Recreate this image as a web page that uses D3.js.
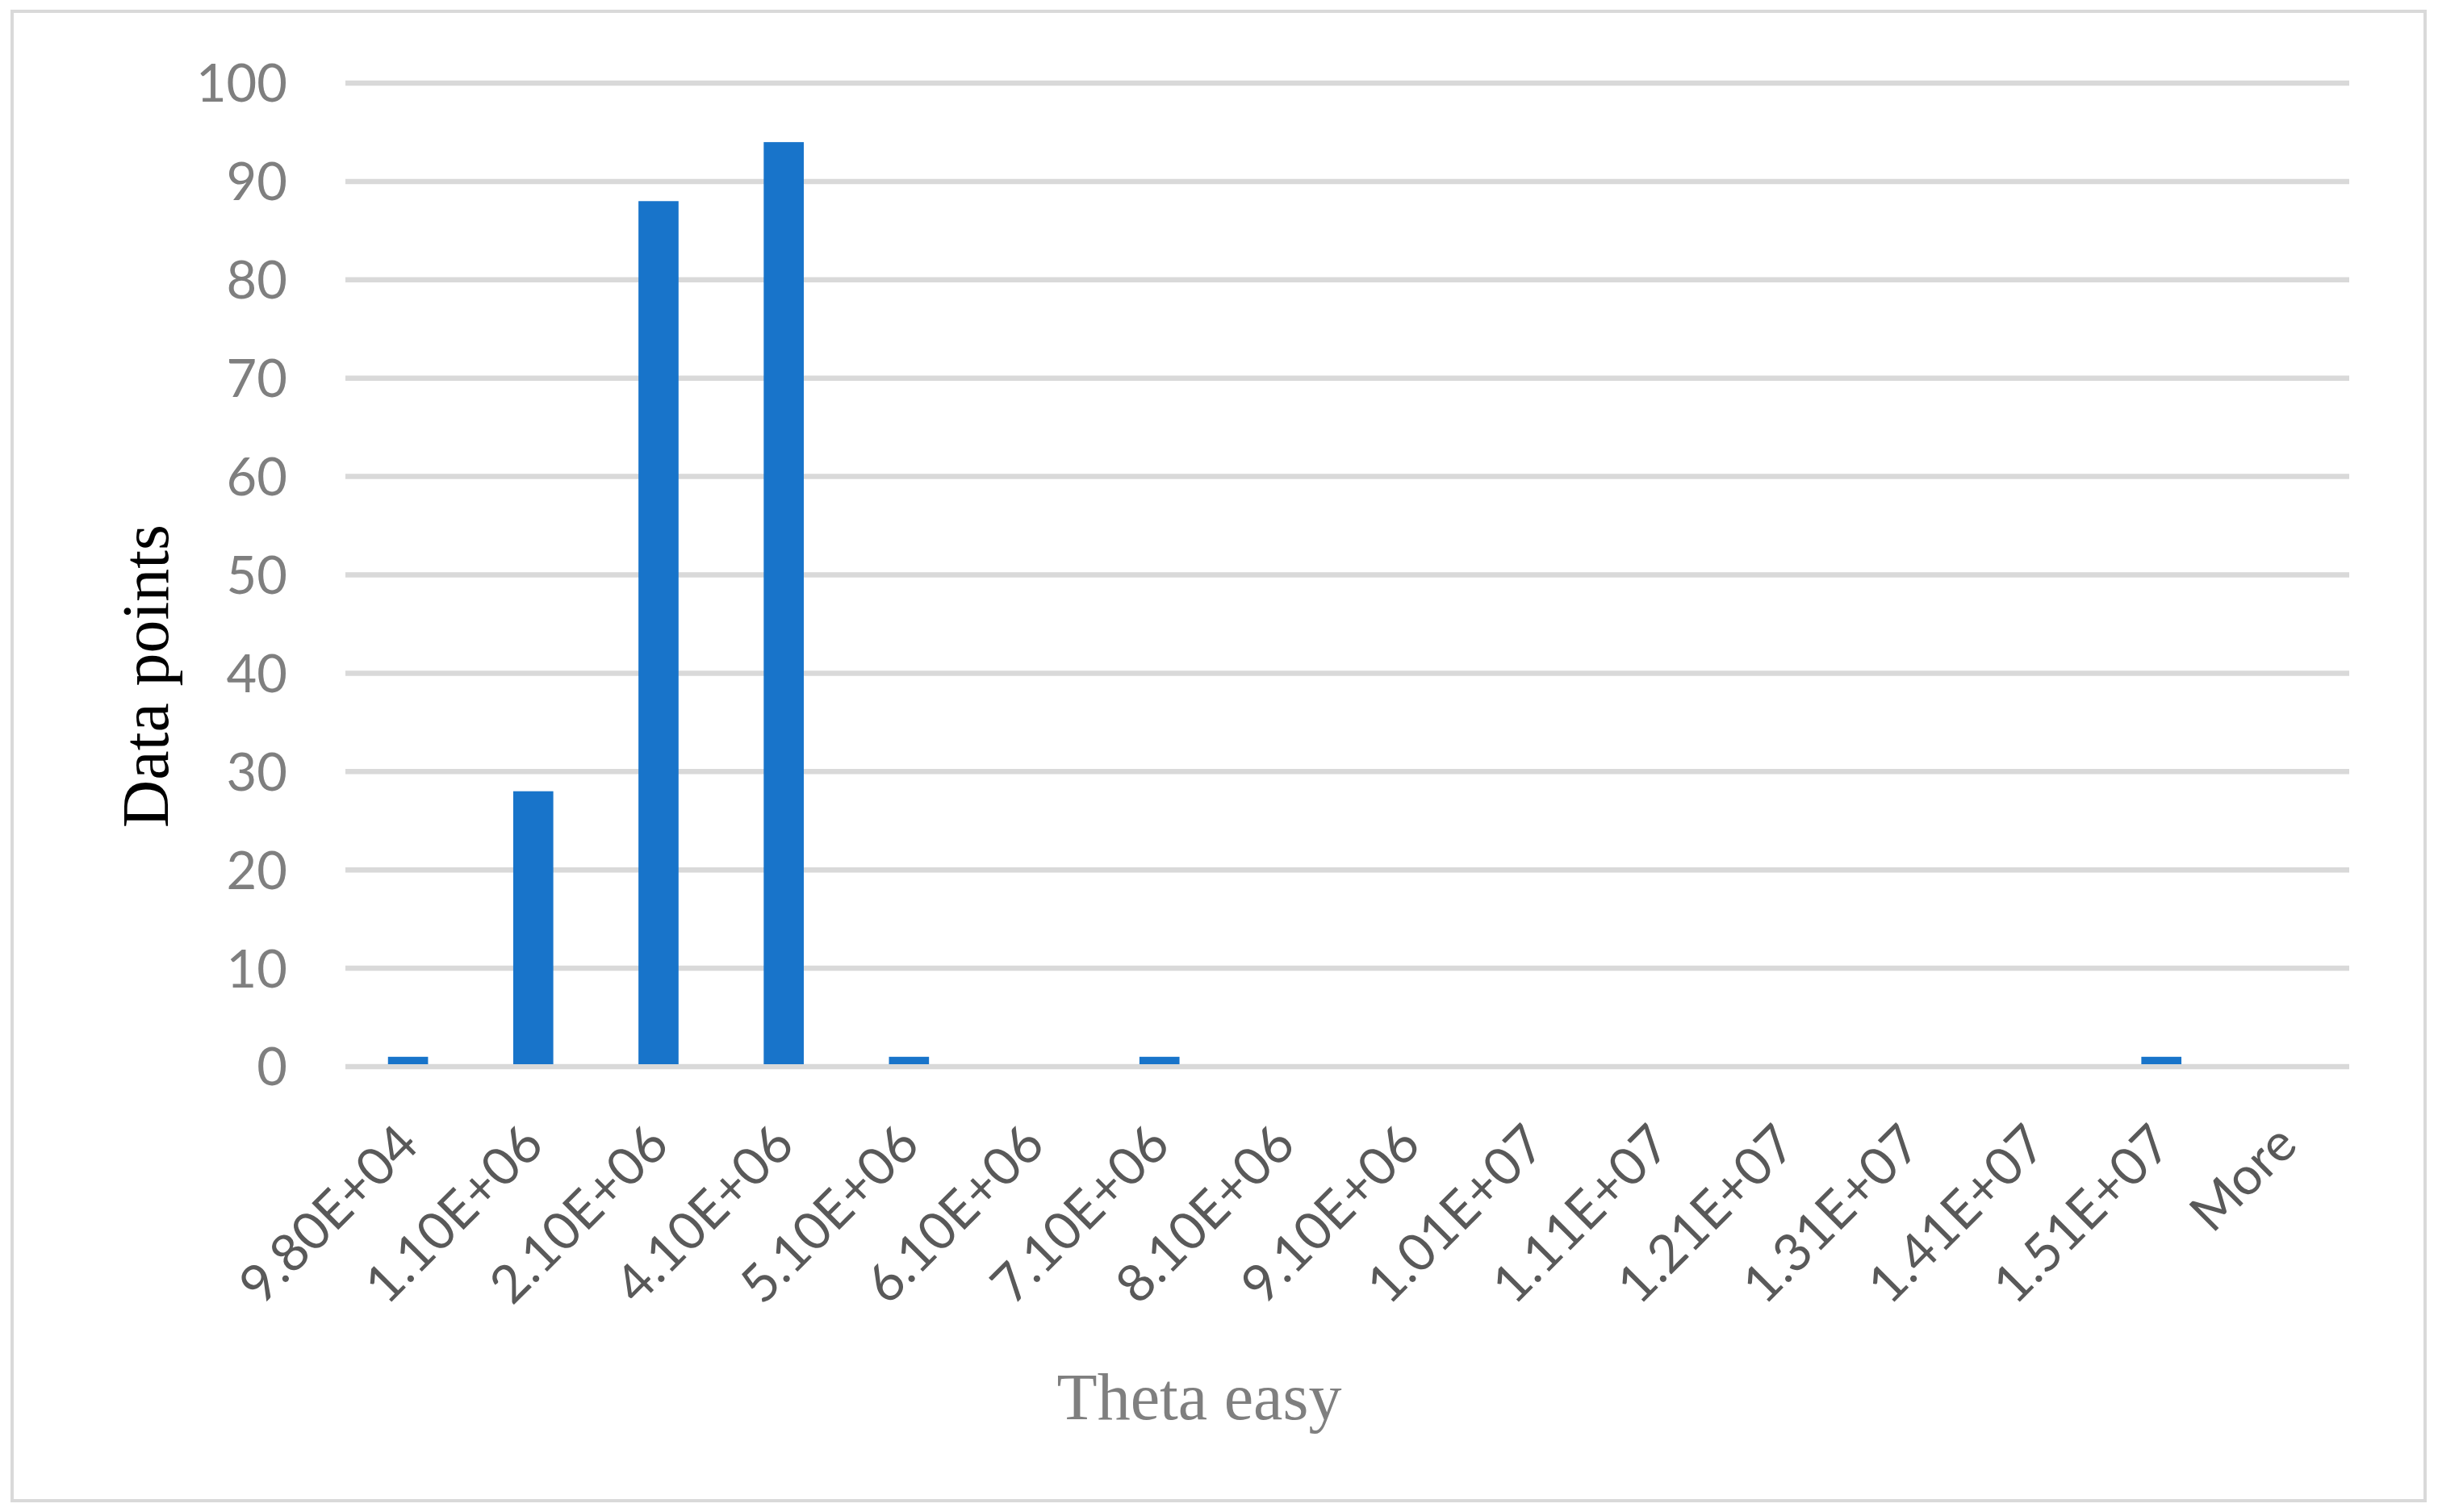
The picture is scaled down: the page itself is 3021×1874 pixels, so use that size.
<!DOCTYPE html>
<html>
<head>
<meta charset="utf-8">
<script src="https://cdn.jsdelivr.net/npm/d3@7"></script>
<style>
body{margin:0;background:#fff;}
</style>
</head>
<body>
<div id="chart"></div>
<script>
var categories = ["9.80E+04","1.10E+06","2.10E+06","4.10E+06","5.10E+06","6.10E+06","7.10E+06","8.10E+06",
    "9.10E+06","1.01E+07","1.11E+07","1.21E+07","1.31E+07","1.41E+07","1.51E+07","More"];
var counts = [1, 28, 88, 94, 1, 0, 1, 0, 0, 0, 0, 0, 0, 0, 1, 0];
var yTicks = [0, 10, 20, 30, 40, 50, 60, 70, 80, 90, 100];

function drawHistogram(){
    var width = 3021,
    height = 1874;
    var plotLeft = 428, plotRight = 2911, plotTop = 103, plotBottom = 1322;

    var svg = d3.select("#chart")
    .append("svg")
        .attr("width", width)
        .attr("height", height)
        .style("display","block");

    // outer chart frame
    svg.append("rect")
        .attr("x", 15)
        .attr("y", 14)
        .attr("width", 2990)
        .attr("height", 1846)
        .attr("fill", "#fff")
        .attr("stroke", "#d9d9d9")
        .attr("stroke-width", 4);

    var x = d3.scaleBand()
        .domain(categories)
        .range([plotLeft, plotRight])
        .paddingInner(0.68)
        .paddingOuter(0.34);

    var y = d3.scaleLinear()
        .domain([0, 100])
        .range([plotBottom, plotTop]);

    // gridlines
    svg.append("g")
    .selectAll("line")
    .data(yTicks)
    .enter()
    .append("line")
        .attr("x1", plotLeft)
        .attr("x2", plotRight)
        .attr("y1", function(d){ return y(d); })
        .attr("y2", function(d){ return y(d); })
        .attr("stroke", "#d9d9d9")
        .attr("stroke-width", 6.5);

    // y tick labels
    svg.append("g")
    .selectAll("text")
    .data(yTicks)
    .enter()
    .append("text")
        .attr("x", 356)
        .attr("y", function(d){ return y(d); })
        .attr("dy", "0.36em")
        .attr("text-anchor", "end")
        .style("font-family", "Lato, 'Open Sans', sans-serif")
        .style("font-size", "65px")
        .style("fill", "#7f7f7f")
        .text(function(d){ return d; });

    // bars
    svg.append("g")
    .selectAll("rect")
    .data(counts)
    .enter()
    .append("rect")
        .attr("x", function(d,i){ return x(categories[i]); })
        .attr("y", function(d){ return y(d); })
        .attr("width", x.bandwidth())
        .attr("height", function(d){ return Math.max(0, y(0) - 3 - y(d)); })
        .attr("fill", "#1874ca");

    // x tick labels, rotated 45deg, text end sits under the bar
    svg.append("g")
    .selectAll("text")
    .data(categories)
    .enter()
    .append("text")
        .attr("transform", function(d){
            var cx = x(d) + x.bandwidth()/2 + 16;
            return "translate(" + cx + "," + (plotBottom + 100) + ") rotate(-45)";
        })
        .attr("text-anchor", "end")
        .style("font-family", "Lato, 'Open Sans', sans-serif")
        .style("font-size", "65px")
        .style("fill", "#595959")
        .text(function(d){ return d; });

    // axis titles
    svg.append("text")
        .attr("transform", "translate(208,838) rotate(-90)")
        .attr("text-anchor", "middle")
        .style("font-family", "'Liberation Serif', 'Times New Roman', serif")
        .style("font-size", "82px")
        .style("fill", "#000")
        .text("Data points");

    svg.append("text")
        .attr("x", 1486)
        .attr("y", 1759)
        .attr("text-anchor", "middle")
        .style("font-family", "'Liberation Serif', 'Times New Roman', serif")
        .style("font-size", "82px")
        .style("fill", "#7f7f7f")
        .text("Theta easy");
}

drawHistogram();
</script>
</body>
</html>
